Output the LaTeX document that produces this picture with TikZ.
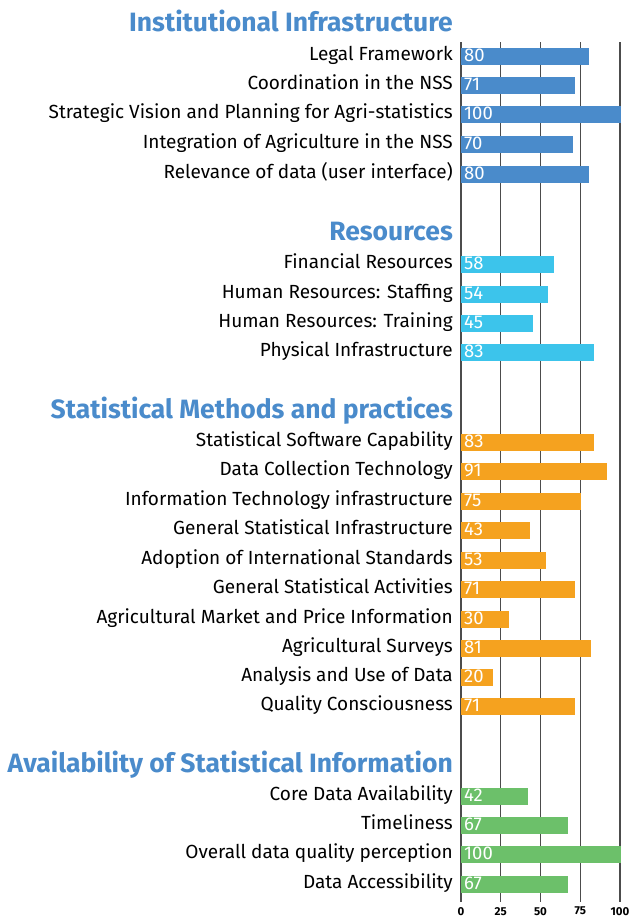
\documentclass[tikz,border=0pt]{standalone}
\usepackage{fontspec}
\setmainfont{Fira Sans}
\definecolor{instblue}{HTML}{4A8BCB}
\definecolor{rescyan}{HTML}{3CC4EB}
\definecolor{methorange}{HTML}{F5A21F}
\definecolor{availgreen}{HTML}{6CC06A}
\begin{document}
\begin{tikzpicture}[x=1pt,y=-1pt,
		every node/.style = {inner sep=0pt, font=\fontsize{19}{21}\selectfont},
		head/.style = {anchor=east, text=instblue, text height=19pt, text depth=5pt,
			font=\fontsize{26.5}{28}\selectfont\bfseries},
		item/.style = {anchor=east, text height=13.5pt, text depth=4pt},
		bar/.style = {anchor=west, minimum height=17pt},
		val/.style = {anchor=west, text=white, text height=13pt, text depth=2pt,
			font=\fontsize{18.5}{20}\selectfont},
		gridline/.style = {draw=black!70, line width=1.1pt},
		tick/.style = {anchor=north, font=\fontsize{11.5}{13}\selectfont\bfseries}]
	\useasboundingbox (0,0) rectangle (631,921);
	% scale lines
	\foreach \t in {0,25,50,75,100} {
		\coordinate (gt\t) at (461+1.59*\t,42);
		\coordinate (gb\t) at (461+1.59*\t,902);
		\draw[gridline] (gt\t) -- (gb\t);
		\node[tick] (ax\t) at (461+1.59*\t,907) {\t};
	}
	% headings
	\node[head] (hinst) at (453,24) {Institutional Infrastructure};
	\node[head] (hres) at (453,233) {Resources};
	\node[head] (hmeth) at (453,411) {Statistical Methods and practices};
	\node[head] (havail) at (453,765) {Availability of Statistical Information};
	% rows
	\foreach \y/\v/\c/\lab [count=\i] in {
			56/80/instblue/Legal Framework,
			85/71/instblue/Coordination in the NSS,
			114/100/instblue/Strategic Vision and Planning for Agri-statistics,
			144/70/instblue/Integration of Agriculture in the NSS,
			174/80/instblue/Relevance of data (user interface),
			264/58/rescyan/Financial Resources,
			294/54/rescyan/Human Resources: Staffing,
			323/45/rescyan/Human Resources: Training,
			352/83/rescyan/Physical Infrastructure,
			442/83/methorange/Statistical Software Capability,
			471/91/methorange/Data Collection Technology,
			501/75/methorange/Information Technology infrastructure,
			530/43/methorange/General Statistical Infrastructure,
			560/53/methorange/Adoption of International Standards,
			589/71/methorange/General Statistical Activities,
			619/30/methorange/Agricultural Market and Price Information,
			648/81/methorange/Agricultural Surveys,
			677/20/methorange/Analysis and Use of Data,
			706/71/methorange/Quality Consciousness,
			796/42/availgreen/Core Data Availability,
			825/67/availgreen/Timeliness,
			854/100/availgreen/Overall data quality perception,
			884/67/availgreen/Data Accessibility} {
		\node[item] (lab\i) at (453,\y) {\lab};
		\node[bar, fill=\c, minimum width=1.6*\v pt] (bar\i) at (461,\y) {};
		\node[val] (val\i) at ([xshift=3pt]bar\i.west) {\v};
	}
\end{tikzpicture}
\end{document}
